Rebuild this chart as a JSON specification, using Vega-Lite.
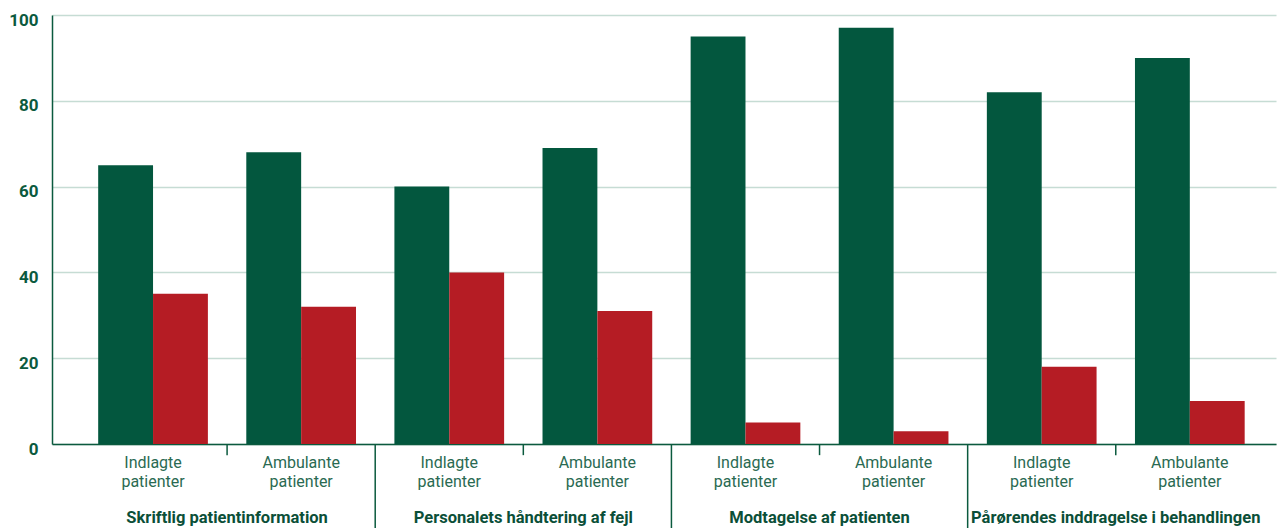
{
  "$schema": "https://vega.github.io/schema/vega-lite/v6.json",
  "width": 1224,
  "height": 429,
  "autosize": "none",
  "padding": {"left": 52, "top": 15, "right": 4, "bottom": 84},
  "config": {"view": {"stroke": null}, "font": "Roboto"},
  "layer": [
    {
      "data": {"values": [
        {"key": "1a", "series": "Positive svar", "value": 65},
        {"key": "1a", "series": "Negative svar", "value": 35},
        {"key": "1b", "series": "Positive svar", "value": 68},
        {"key": "1b", "series": "Negative svar", "value": 32},
        {"key": "2a", "series": "Positive svar", "value": 60},
        {"key": "2a", "series": "Negative svar", "value": 40},
        {"key": "2b", "series": "Positive svar", "value": 69},
        {"key": "2b", "series": "Negative svar", "value": 31},
        {"key": "3a", "series": "Positive svar", "value": 95},
        {"key": "3a", "series": "Negative svar", "value": 5},
        {"key": "3b", "series": "Positive svar", "value": 97},
        {"key": "3b", "series": "Negative svar", "value": 3},
        {"key": "4a", "series": "Positive svar", "value": 82},
        {"key": "4a", "series": "Negative svar", "value": 18},
        {"key": "4b", "series": "Positive svar", "value": 90},
        {"key": "4b", "series": "Negative svar", "value": 10}
      ]},
      "mark": {"type": "bar"},
      "encoding": {
        "x": {
          "field": "key", "type": "nominal",
          "scale": {"paddingInner": 0, "paddingOuter": 0.132, "align": 0.69},
          "axis": {
            "title": null, "ticks": false, "labelAngle": 0,
            "labelExpr": "slice(datum.value, 1) === 'a' ? ['Indlagte', 'patienter'] : ['Ambulante', 'patienter']",
            "labelFont": "Roboto", "labelFontSize": 16, "labelColor": "#2a6a52",
            "labelPadding": 10, "labelLineHeight": 19, "labelBaseline": "top",
            "domainColor": "#0b5a3e", "domainWidth": 1.5
          }
        },
        "xOffset": {
          "field": "series", "type": "nominal",
          "sort": ["Positive svar", "Negative svar"],
          "scale": {"paddingOuter": 0.35, "paddingInner": 0}
        },
        "y": {
          "field": "value", "type": "quantitative",
          "scale": {"domain": [0, 100], "nice": false},
          "axis": {
            "title": null, "values": [0, 20, 40, 60, 80, 100], "ticks": false,
            "domainColor": "#0b5a3e", "domainWidth": 1.5,
            "gridColor": "#c6dcd4", "gridWidth": 1.5,
            "labelFont": "Roboto", "labelFontWeight": "bold", "labelFontSize": 17,
            "labelColor": "#0b5a3e", "labelPadding": 14, "labelOffset": 5
          }
        },
        "color": {
          "field": "series", "type": "nominal",
          "scale": {"domain": ["Positive svar", "Negative svar"], "range": ["#03573e", "#b51c24"]},
          "legend": null
        }
      }
    },
    {
      "data": {"values": [{"key": "1a"}, {"key": "2a"}, {"key": "3a"}, {"key": "4a"}]},
      "mark": {"type": "rule", "color": "#0b5a3e", "strokeWidth": 1.5},
      "encoding": {
        "x": {"field": "key", "type": "nominal", "bandPosition": 1},
        "y": {"datum": 0},
        "y2": {"datum": -2.6}
      }
    },
    {
      "data": {"values": [{"key": "1b"}, {"key": "2b"}, {"key": "3b"}]},
      "mark": {"type": "rule", "color": "#0b5a3e", "strokeWidth": 1.5},
      "encoding": {
        "x": {"field": "key", "type": "nominal", "bandPosition": 1},
        "y": {"datum": 0},
        "y2": {"datum": -20}
      }
    },
    {
      "data": {"values": [
        {"key": "1a", "group": "Skriftlig patientinformation"},
        {"key": "2a", "group": "Personalets håndtering af fejl"},
        {"key": "3a", "group": "Modtagelse af patienten"},
        {"key": "4a", "group": "Pårørendes inddragelse i behandlingen"}
      ]},
      "mark": {"type": "text", "font": "Roboto", "fontWeight": "bold", "fontSize": 16.5, "color": "#0b4f38", "baseline": "alphabetic", "dy": 79},
      "encoding": {
        "x": {"field": "key", "type": "nominal", "bandPosition": 1},
        "y": {"datum": 0},
        "text": {"field": "group"}
      }
    }
  ]
}
